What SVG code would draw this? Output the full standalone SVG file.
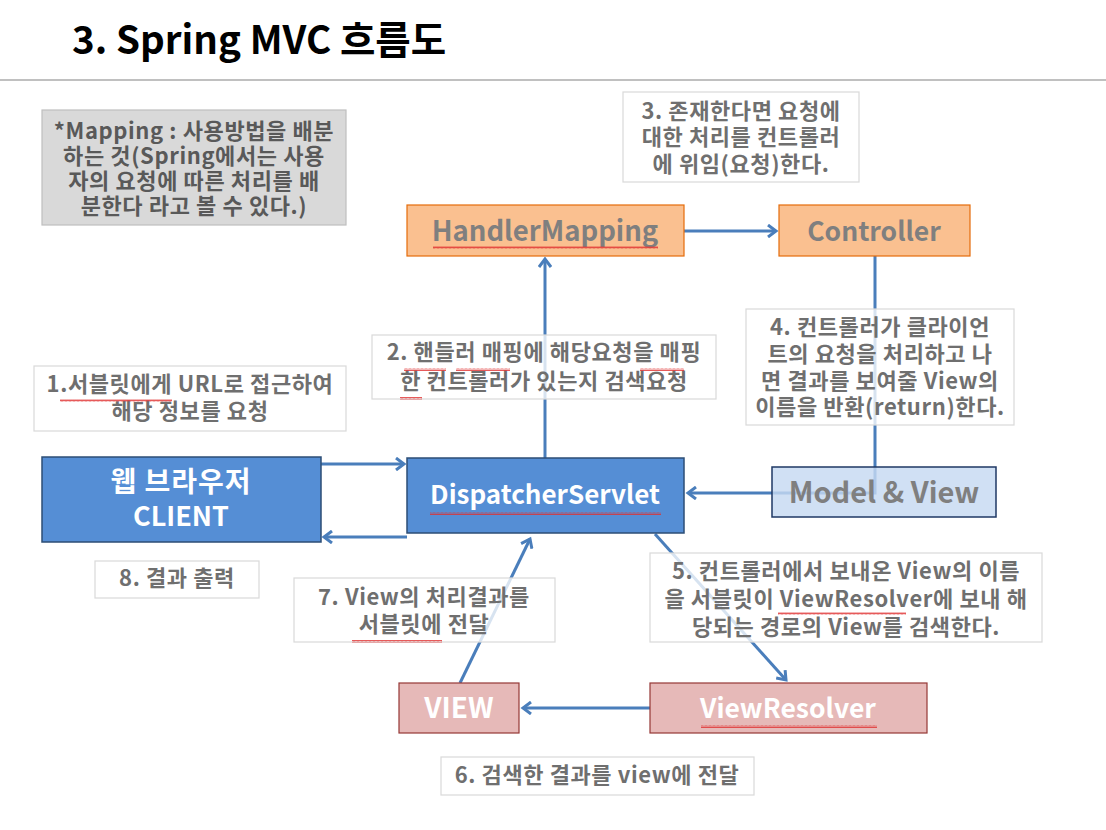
<svg xmlns="http://www.w3.org/2000/svg" width="1106" height="830" viewBox="0 0 1106 830">
<defs>
<style>
.t{font-family:"Noto Sans CJK KR","Noto Sans",sans-serif;font-weight:bold;text-anchor:middle}
.note{fill:#ffffff;fill-opacity:0.78;stroke:#d9d9d9;stroke-width:1.2}
.nt{font-size:22px;letter-spacing:0.6px;fill:#6f6f6f}
.big{font-size:26px}
.blue{fill:#558ed5;stroke:#2c4d75;stroke-width:1.5}
.orange{fill:#fac090;stroke:#e46c0a;stroke-width:1.2}
.pink{fill:#e6b9b8;stroke:#953735;stroke-width:1.2}
.mv{fill:#c6d9f1;fill-opacity:0.82;stroke:#1f3864;stroke-width:1.5}
.w{fill:#ffffff}
.g{fill:#7f7f7f}
.c{fill:none;stroke:#4a7ebb;stroke-width:3}
</style>
<marker id="ah" markerWidth="12" markerHeight="14" refX="9" refY="7" orient="auto" markerUnits="userSpaceOnUse">
<path d="M1,1 L9,7 L1,13" fill="none" stroke="#4a7ebb" stroke-width="3"/>
</marker>
<pattern id="wavy" width="4" height="3" patternUnits="userSpaceOnUse">
<path d="M0,2.5 L1,0.5 L2,2.5 L3,0.5 L4,2.5" fill="none" stroke="#e03030" stroke-width="0.8"/>
</pattern>
</defs>
<rect width="1106" height="830" fill="#ffffff"/>
<text class="t" x="72" y="54" style="text-anchor:start;font-size:38.5px;fill:#000">3. Spring MVC 흐름도</text>
<rect x="0" y="79" width="1106" height="2" fill="#c0c0c0"/>

<g id="connectors">
<path class="c" d="M684,231 L776,231" marker-end="url(#ah)"/>
<path class="c" d="M875,256 L875,493 L688,493" marker-end="url(#ah)"/>
<path class="c" d="M545,458 L545,259" marker-end="url(#ah)"/>
<path class="c" d="M320,464 L404,464" marker-end="url(#ah)"/>
<path class="c" d="M407,537 L324,537" marker-end="url(#ah)"/>
<path class="c" d="M655,534 L786,680" marker-end="url(#ah)"/>
<path class="c" d="M650,708 L523,708" marker-end="url(#ah)"/>
<path class="c" d="M460,683 L530,539" marker-end="url(#ah)"/>
</g>

<g id="mapping-note">
<rect x="42" y="110" width="304" height="115" fill="#d9d9d9" stroke="#bfbfbf" stroke-width="1.2"/>
<text class="t nt" x="194" y="139" style="fill:#595959">*Mapping : 사용방법을 배분</text>
<text class="t nt" x="194" y="164" style="fill:#595959">하는 것(Spring에서는 사용</text>
<text class="t nt" x="194" y="189" style="fill:#595959">자의 요청에 따른 처리를 배</text>
<text class="t nt" x="194" y="214" style="fill:#595959">분한다 라고 볼 수 있다.)</text>
</g>

<g id="note3">
<rect class="note" x="623" y="92" width="236" height="90"/>
<text class="t nt" x="741" y="119">3. 존재한다면 요청에</text>
<text class="t nt" x="741" y="145">대한 처리를 컨트롤러</text>
<text class="t nt" x="741" y="172">에 위임(요청)한다.</text>
</g>

<g id="handlermapping">
<rect class="orange" x="407" y="205" width="277" height="51"/>
<text class="t g" x="545" y="241" style="font-size:27.5px">HandlerMapping</text>
<rect x="433" y="246" width="225" height="3" fill="url(#wavy)"/>
</g>

<g id="controller">
<rect class="orange" x="779" y="205" width="191" height="51"/>
<text class="t g" x="874" y="241" style="font-size:26.5px">Controller</text>
</g>

<g id="note4">
<rect class="note" x="746" y="309" width="268" height="116"/>
<text class="t nt" x="880" y="335">4. 컨트롤러가 클라이언</text>
<text class="t nt" x="880" y="362">트의 요청을 처리하고 나</text>
<text class="t nt" x="880" y="389">면 결과를 보여줄 View의</text>
<text class="t nt" x="880" y="415">이름을 반환(return)한다.</text>
</g>

<g id="note2">
<rect class="note" x="372" y="335" width="344" height="64"/>
<text class="t nt" x="544" y="360">2. 핸들러 매핑에 해당요청을 매핑</text>
<text class="t nt" x="544" y="389">한 컨트롤러가 있는지 검색요청</text>
<rect x="404" y="368" width="42" height="3" fill="url(#wavy)"/>
<rect x="456" y="368" width="54" height="3" fill="url(#wavy)"/>
<rect x="640" y="368" width="44" height="3" fill="url(#wavy)"/>
<rect x="400" y="397" width="22" height="3" fill="url(#wavy)"/>
</g>

<g id="note1">
<rect class="note" x="34" y="366" width="312" height="65"/>
<text class="t nt" x="190" y="392">1.서블릿에게 URL로 접근하여</text>
<text class="t nt" x="190" y="419">해당 정보를 요청</text>
<rect x="60" y="399" width="112" height="3" fill="url(#wavy)"/>
</g>

<g id="client">
<rect class="blue" x="42" y="457" width="279" height="85"/>
<text class="t w" x="181" y="492" style="font-size:28px;letter-spacing:1px">웹 브라우저</text>
<text class="t w" x="181" y="526" style="font-size:27px">CLIENT</text>
</g>

<g id="dispatcher">
<rect class="blue" x="407" y="458" width="277" height="75"/>
<text class="t w" x="545" y="504" style="font-size:26px">DispatcherServlet</text>
<rect x="430" y="512" width="231" height="3" fill="url(#wavy)"/>
</g>

<g id="modelview">
<rect class="mv" x="772" y="467" width="224" height="50"/>
<text class="t g" x="884" y="503" style="font-size:29px">Model &amp; View</text>
</g>

<g id="note8">
<rect class="note" x="95" y="561" width="164" height="37"/>
<text class="t nt" x="177" y="586">8. 결과 출력</text>
</g>

<g id="note7">
<rect class="note" x="294" y="578" width="261" height="64"/>
<text class="t nt" x="424" y="605">7. View의 처리결과를</text>
<text class="t nt" x="424" y="632">서블릿에 전달</text>
<rect x="352" y="640" width="90" height="3" fill="url(#wavy)"/>
</g>

<g id="note5">
<rect class="note" x="650" y="553" width="392" height="89"/>
<text class="t nt" x="846" y="579">5. 컨트롤러에서 보내온 View의 이름</text>
<text class="t nt" x="846" y="607">을 서블릿이 ViewResolver에 보내 해</text>
<text class="t nt" x="846" y="635">당되는 경로의 View를 검색한다.</text>
<rect x="778" y="612" width="128" height="3" fill="url(#wavy)"/>
</g>

<g id="view">
<rect class="pink" x="399" y="683" width="120" height="50"/>
<text class="t w" x="459" y="718" style="font-size:28px">VIEW</text>
</g>

<g id="viewresolver">
<rect class="pink" x="650" y="683" width="277" height="50"/>
<text class="t w" x="788" y="718" style="font-size:26.5px">ViewResolver</text>
<rect x="701" y="725" width="176" height="3" fill="url(#wavy)"/>
</g>

<g id="note6">
<rect class="note" x="441" y="757" width="313" height="38"/>
<text class="t nt" x="597" y="783">6. 검색한 결과를 view에 전달</text>
</g>
</svg>
